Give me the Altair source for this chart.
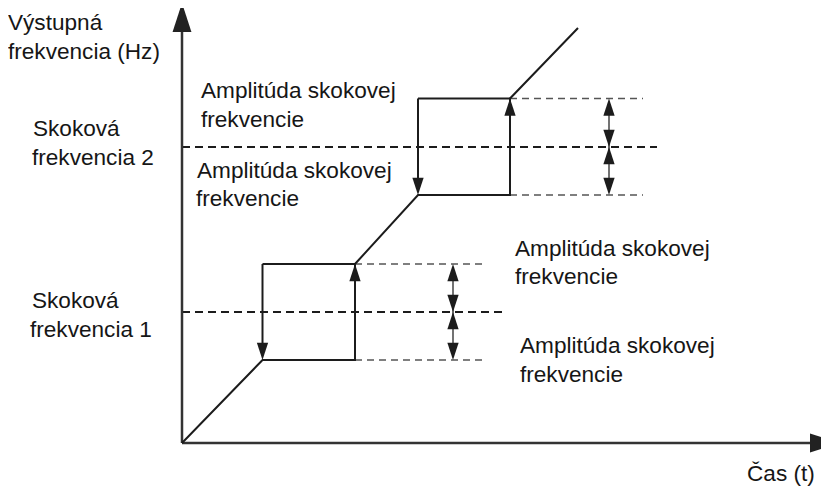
import altair as alt
import pandas as pd

# Diagram coordinates: t = time (to the right), f = frequency (upwards); origin where the axes cross
curve_t = [0, 80.5, 173, 173, 236, 328, 328, 396]
curve_f = [0, 83, 83, 179, 248, 248, 344.5, 415]

jump_f = [131, 296]            # Skoková frekvencia 1, 2
band_hi = [179, 344.5]         # jump frequency + amplitude
band_lo = [83, 248]            # jump frequency - amplitude
rect_left = [80.5, 236]
rect_right = [173, 328]
amp_arrow_t = [271, 427]
center_dash_end = [320, 475]
band_dash_end = [305, 461]

axis_t_end = 628
axis_f_end = 412
axis_t_tip = 657
axis_f_tip = 440

labels = ["Výstupná", "frekvencia (Hz)",
          "Skoková", "frekvencia 2",
          "Skoková", "frekvencia 1",
          "Amplitúda skokovej", "frekvencie",
          "Amplitúda skokovej", "frekvencie",
          "Amplitúda skokovej", "frekvencie",
          "Amplitúda skokovej", "frekvencie",
          "Čas (t)"]
label_t = [-174, -174, -149, -150, -150, -152, 19, 19, 15, 14, 333, 333, 338, 338, 565]
label_f = [413, 384, 307, 278, 135, 106, 345, 316, 265, 237, 187, 159, 90, 61, -38]

T_DOMAIN = [-174, 639]
F_DOMAIN = [-43, 435]
W, H = 813, 478

xs = alt.Scale(domain=T_DOMAIN, nice=False, zero=False)
ys = alt.Scale(domain=F_DOMAIN, nice=False, zero=False)

def X(field):
    return alt.X(field, type="quantitative", scale=xs, axis=None)

def Y(field):
    return alt.Y(field, type="quantitative", scale=ys, axis=None)

INK = "#1c1c1c"

# curve
curve_df = pd.DataFrame({"t": curve_t, "f": curve_f, "i": list(range(len(curve_t)))})
curve = alt.Chart(curve_df).mark_line(color=INK, strokeWidth=2).encode(
    x=X("t"), y=Y("f"), order="i:O")

# solid segments: top edge and descending jump of each rectangle
seg = []
for k in range(2):
    seg.append({"t": rect_left[k], "t2": rect_right[k], "f": band_hi[k], "f2": band_hi[k]})
    seg.append({"t": rect_left[k], "t2": rect_left[k], "f": band_hi[k], "f2": band_lo[k] + 8})
seg_df = pd.DataFrame(seg)
segs = alt.Chart(seg_df).mark_rule(color=INK, strokeWidth=2).encode(
    x=X("t"), x2="t2", y=Y("f"), y2="f2")

# axes
axes_df = pd.DataFrame([
    {"t": 0, "t2": 0, "f": 0, "f2": axis_f_end},
    {"t": 0, "t2": axis_t_end, "f": 0, "f2": 0},
])
axes = alt.Chart(axes_df).mark_rule(color="#333333", strokeWidth=2.5).encode(
    x=X("t"), x2="t2", y=Y("f"), y2="f2")

# dashed lines at jump frequencies (strong)
cd_df = pd.DataFrame({"t": [0, 0], "t2": center_dash_end, "f": jump_f})
center_dash = alt.Chart(cd_df).mark_rule(color=INK, strokeWidth=2, strokeDash=[8, 5]).encode(
    x=X("t"), x2="t2", y=Y("f"))

# dashed lines at band edges (light)
bd = []
for k in range(2):
    bd.append({"t": rect_right[k], "t2": band_dash_end[k], "f": band_hi[k]})
    bd.append({"t": rect_right[k], "t2": band_dash_end[k], "f": band_lo[k]})
bd_df = pd.DataFrame(bd)
band_dash = alt.Chart(bd_df).mark_rule(color="#555555", strokeWidth=1.5, strokeDash=[7, 5]).encode(
    x=X("t"), x2="t2", y=Y("f"))

# amplitude double-arrow shafts
sh = []
for k in range(2):
    sh.append({"t": amp_arrow_t[k], "f": band_lo[k] + 10, "f2": band_hi[k] - 10})
sh_df = pd.DataFrame(sh)
shafts = alt.Chart(sh_df).mark_rule(color="#444444", strokeWidth=1.5).encode(
    x=X("t"), y=Y("f"), y2="f2")

UP = "M0,0L0.65,2L-0.65,2Z"
DOWN = "M0,0L0.65,-2L-0.65,-2Z"
RIGHT = "M0,0L-2,-0.655L-2,0.655Z"

heads = []
for k in range(2):
    heads.append({"t": rect_right[k], "f": band_hi[k], "d": "up"})
    heads.append({"t": rect_left[k], "f": band_lo[k], "d": "down"})
    heads.append({"t": amp_arrow_t[k], "f": band_hi[k], "d": "up"})
    heads.append({"t": amp_arrow_t[k], "f": jump_f[k], "d": "down"})
    heads.append({"t": amp_arrow_t[k], "f": jump_f[k], "d": "up"})
    heads.append({"t": amp_arrow_t[k], "f": band_lo[k], "d": "down"})
heads_df = pd.DataFrame(heads)
shape_scale = alt.Scale(domain=["up", "down", "right"], range=[UP, DOWN, RIGHT])
arrowheads = alt.Chart(heads_df).mark_point(
    filled=True, opacity=1, color=INK, size=300, strokeWidth=0).encode(
    x=X("t"), y=Y("f"), shape=alt.Shape("d:N", scale=shape_scale, legend=None))

ax_heads_df = pd.DataFrame([
    {"t": 0, "f": axis_f_tip, "d": "up"},
    {"t": axis_t_tip, "f": 0, "d": "right"},
])
axis_heads = alt.Chart(ax_heads_df).mark_point(
    filled=True, opacity=1, color="#222222", size=841, strokeWidth=0).encode(
    x=X("t"), y=Y("f"), shape=alt.Shape("d:N", scale=shape_scale, legend=None))

text_df = pd.DataFrame({"label": labels, "t": label_t, "f": label_f})
texts = alt.Chart(text_df).mark_text(
    align="left", baseline="alphabetic", font="Liberation Sans", fontSize=22.6, color="#161616").encode(
    x=X("t"), y=Y("f"), text="label:N")

chart = alt.layer(
    band_dash, center_dash, shafts, axes, segs, curve, arrowheads, axis_heads, texts
).properties(
    width=W, height=H, autosize=alt.AutoSizeParams(type="none"), padding=0
).configure_view(stroke=None)

chart.save("out.html", embed_options={"renderer": "svg", "actions": False})
